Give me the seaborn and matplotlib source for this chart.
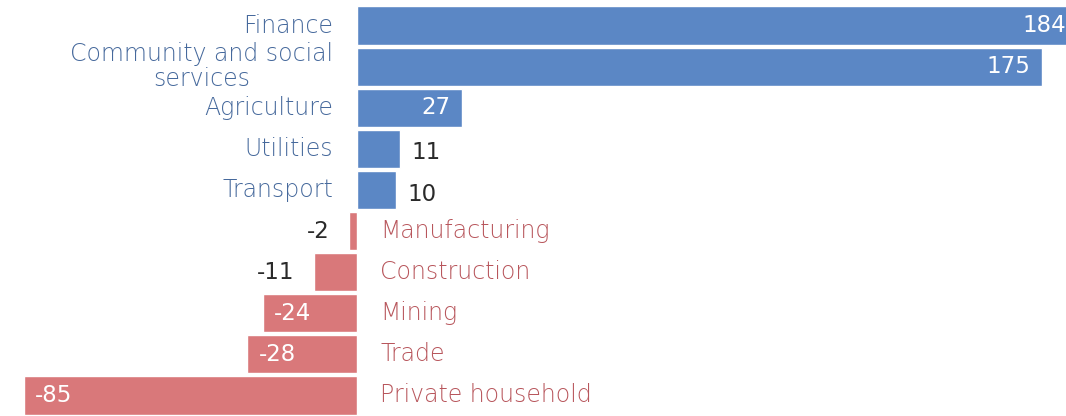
import matplotlib
matplotlib.use("Agg")
import matplotlib.pyplot as plt
import seaborn as sns
import pandas as pd

# Net change in employment by industry
sectors = ["Finance", "Community and social\nservices", "Agriculture", "Utilities",
           "Transport", "Manufacturing", "Construction", "Mining", "Trade",
           "Private household"]
changes = [184, 175, 27, 11, 10, -2, -11, -24, -28, -85]

BLUE = "#5b87c5"
RED = "#d9787a"
BLUE_TXT = "#46699c"
RED_TXT = "#b8565c"

df = pd.DataFrame({"sector": sectors, "change": changes})
df["sign"] = ["gain" if v >= 0 else "loss" for v in changes]

sns.set_theme(style="white")
plt.rcParams["font.family"] = ["DejaVu Sans"]

fig = plt.figure(figsize=(10.66, 4.16), dpi=100)
ax = fig.add_axes([0, 0, 1, 411 / 416])

sns.barplot(data=df, y="sector", x="change", hue="sign", orient="h",
            palette={"gain": BLUE, "loss": RED}, dodge=False, width=0.93,
            legend=False, ax=ax, saturation=1)

ax.set_xlim(-91, 181)
ax.set_ylim(len(sectors) - 0.5, -0.5)
ax.axis("off")

LABEL_FS = 17
VALUE_FS = 16.5
inside_min = 20
for i, (name, v) in enumerate(zip(sectors, changes)):
    # category label on the side opposite the bar
    if v >= 0:
        ax.text(-6, i, name, ha="right", va="center", multialignment="center",
                color=BLUE_TXT, fontsize=LABEL_FS, fontweight="light",
                linespacing=1.05)
    else:
        ax.text(6, i, name, ha="left", va="center",
                color=RED_TXT, fontsize=LABEL_FS, fontweight="light")
    # value label: inside the bar when it fits, outside otherwise
    if abs(v) >= inside_min:
        if v > 0:
            ax.text(v - 3, i, f"{v}", ha="right", va="center",
                    color="white", fontsize=VALUE_FS)
        else:
            ax.text(v + 3, i, f"{v}", ha="left", va="center",
                    color="white", fontsize=VALUE_FS)
    else:
        if v > 0:
            ax.text(v + 3, i + 0.1, f"{v}", ha="left", va="center",
                    color="#2a2a2a", fontsize=VALUE_FS)
        else:
            ax.text(v - 5, i, f"{v}", ha="right", va="center",
                    color="#2a2a2a", fontsize=VALUE_FS)

fig.savefig("out.png", dpi=100)
